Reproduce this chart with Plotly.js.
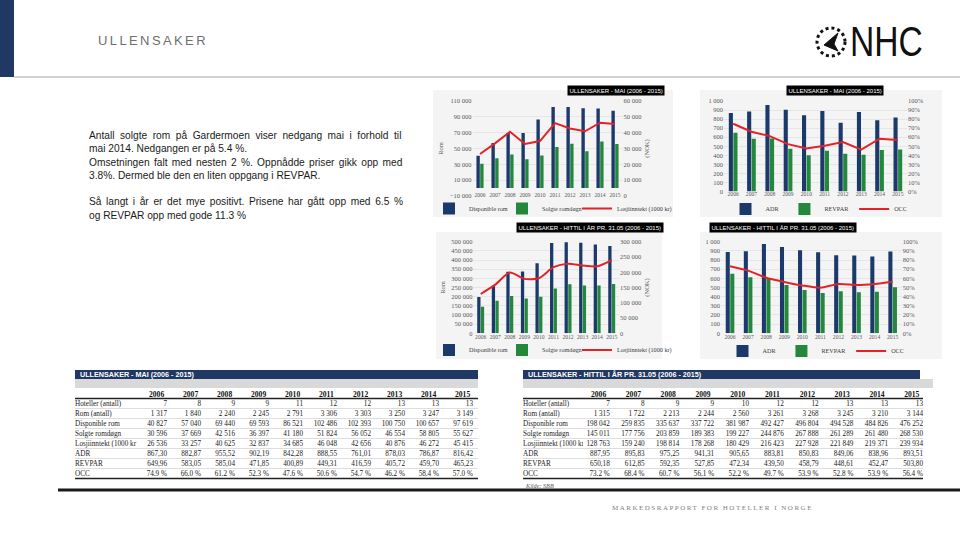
<!DOCTYPE html>
<html>
<head>
<meta charset="utf-8">
<script src="https://cdn.plot.ly/plotly-3.0.1.min.js"></script>
<style>
html,body{margin:0;padding:0;background:#ffffff;}
#chart{width:960px;height:540px;}
</style>
</head>
<body>
<div id="chart"></div>
<script>
// ---------- DATA ----------
const years = ['2006','2007','2008','2009','2010','2011','2012','2013','2014','2015'];

// ULLENSAKER - MAI (2006 - 2015)
const maiHotels  = [7, 8, 9, 9, 11, 12, 12, 13, 13, 13];
const maiRooms   = [1317, 1840, 2240, 2245, 2791, 3306, 3303, 3250, 3247, 3149];
const maiDisp    = [40827, 57040, 69440, 69593, 86521, 102486, 102393, 100750, 100657, 97619];
const maiSolgte  = [30596, 37669, 42516, 36397, 41180, 51824, 56052, 46554, 58805, 55627];
const maiLosj    = [26536, 33257, 40625, 32837, 34685, 46048, 42656, 40876, 46272, 45415];
const maiADR     = [867.30, 882.87, 955.52, 902.19, 842.28, 888.55, 761.01, 878.03, 786.87, 816.42];
const maiREVPAR  = [649.96, 583.05, 585.04, 471.85, 400.89, 449.31, 416.59, 405.72, 459.70, 465.23];
const maiOCC     = [74.9, 66.0, 61.2, 52.3, 47.6, 50.6, 54.7, 46.2, 58.4, 57.0];

// ULLENSAKER - HITTIL I ÅR PR. 31.05 (2006 - 2015)
const ytdHotels  = [7, 8, 9, 9, 10, 12, 12, 13, 13, 13];
const ytdRooms   = [1315, 1722, 2213, 2244, 2560, 3261, 3268, 3245, 3210, 3144];
const ytdDisp    = [198042, 259835, 335637, 337722, 381987, 492427, 496804, 494528, 484826, 476252];
const ytdSolgte  = [145011, 177756, 203859, 189383, 199227, 244876, 267888, 261289, 261480, 268530];
const ytdLosj    = [128763, 159240, 198814, 178268, 180429, 216423, 227928, 221849, 219371, 239934];
const ytdADR     = [887.95, 895.83, 975.25, 941.31, 905.65, 883.81, 850.83, 849.06, 838.96, 893.51];
const ytdREVPAR  = [650.18, 612.85, 592.35, 527.85, 472.34, 439.50, 458.79, 448.61, 452.47, 503.80];
const ytdOCC     = [73.2, 68.4, 60.7, 56.1, 52.2, 49.7, 53.9, 52.8, 53.9, 56.4];

const rowLabels = ['Hoteller (antall)', 'Rom (antall)', 'Disponible rom', 'Solgte romdøgn',
                   'Losjiinntekt (1000 kr', 'ADR', 'REVPAR', 'OCC'];
const seriesNames = ['Disponible rom', 'Solgte romdøgn', 'Losjiinntekt (1000 kr)'];
const kpiNames = ['ADR', 'REVPAR', 'OCC'];

// ---------- HELPERS ----------
const W = 960, H = 540;
const px = x => x / W;
const py = y => 1 - y / H;
const NB = '\u00a0';
const fmtInt = n => String(n).replace(/\B(?=(\d{3})+(?!\d))/g, NB);
const fmtDec = n => n.toFixed(2).replace('.', ',');
const fmtPct = n => n.toFixed(1).replace('.', ',') + NB + '%';
const nb = s => s.replace(/ /g, NB);

const BLUE = '#1b3a6b', GREEN = '#23873c', RED = '#e3222a';
const SERIF = 'Liberation Serif, Times New Roman, serif';
const SANS = 'Liberation Sans, Arial, sans-serif';
const TICK = {family: SERIF, size: 6.5, color: '#595959'};
const YEARF = {family: SERIF, size: 5.6, color: '#595959'};
const LEGF = {family: SERIF, size: 6.2, color: '#404040'};
const GRID = '#e6e6e6';

function barTrace(x, y, name, color, xa, ya, leg, lw) {
  const t = {type: 'bar', x: x, y: y, name: name, marker: {color: color},
          xaxis: xa, yaxis: ya, legend: leg, hoverinfo: 'skip'};
  if (lw) t.legendwidth = lw;
  return t;
}
function lineTrace(x, y, name, xa, ya, leg, shape) {
  return {type: 'scatter', mode: 'lines', x: x, y: y, name: name,
          line: {color: RED, width: 2, shape: shape, smoothing: 0.7},
          xaxis: xa, yaxis: ya, legend: leg, hoverinfo: 'skip'};
}

const occMai = maiOCC.map(v => v / 100);
const occYtd = ytdOCC.map(v => v / 100);

const traces = [
  barTrace(years, maiDisp, seriesNames[0], BLUE, 'x', 'y', 'legend', 28),
  barTrace(years, maiSolgte, seriesNames[1], GREEN, 'x', 'y', 'legend', 30),
  lineTrace(years, maiLosj, seriesNames[2], 'x', 'y2', 'legend', 'linear'),

  barTrace(years, maiADR, kpiNames[0], BLUE, 'x2', 'y3', 'legend2'),
  barTrace(years, maiREVPAR, kpiNames[1], GREEN, 'x2', 'y3', 'legend2'),
  lineTrace(years, occMai, kpiNames[2], 'x2', 'y4', 'legend2', 'linear'),

  barTrace(years, ytdDisp, seriesNames[0], BLUE, 'x3', 'y5', 'legend3', 28),
  barTrace(years, ytdSolgte, seriesNames[1], GREEN, 'x3', 'y5', 'legend3', 30),
  lineTrace(years, ytdLosj, seriesNames[2], 'x3', 'y6', 'legend3', 'spline'),

  barTrace(years, ytdADR, kpiNames[0], BLUE, 'x4', 'y7', 'legend4'),
  barTrace(years, ytdREVPAR, kpiNames[1], GREEN, 'x4', 'y7', 'legend4'),
  lineTrace(years, occYtd, kpiNames[2], 'x4', 'y8', 'legend4', 'spline')
];

// ---------- TABLES ----------
function tableColumns(rows) {
  const cols = [rowLabels.map(nb)];
  for (let i = 0; i < years.length; i++) {
    cols.push([fmtInt(rows.hotels[i]), fmtInt(rows.rooms[i]), fmtInt(rows.disp[i]),
               fmtInt(rows.solgte[i]), fmtInt(rows.losj[i]), fmtDec(rows.adr[i]),
               fmtDec(rows.revpar[i]), fmtPct(rows.occ[i])]);
  }
  return cols;
}
const alignCells = ['left'].concat(years.map(() => 'right'));
const alignHead = ['left'].concat(years.map(() => 'left'));
function tableTrace(rows, x0, x1, y0, y1, labelW, colW) {
  return {
    type: 'table',
    domain: {x: [px(x0), px(x1)], y: [py(y1), py(y0)]},
    columnwidth: [labelW].concat(years.map(() => colW)),
    header: {values: [''].concat(years), height: 10, align: alignHead,
             fill: {color: 'rgba(0,0,0,0)'}, line: {width: 0, color: 'rgba(0,0,0,0)'},
             font: {family: SERIF, size: 7.6, color: '#111', weight: 'bold'}},
    cells: {values: tableColumns(rows), height: 10, align: alignCells,
            fill: {color: 'rgba(0,0,0,0)'}, line: {width: 0, color: 'rgba(0,0,0,0)'},
            font: {family: SERIF, size: 7.2, color: '#1a1a1a'}}
  };
}
traces.push(tableTrace({hotels: maiHotels, rooms: maiRooms, disp: maiDisp, solgte: maiSolgte,
  losj: maiLosj, adr: maiADR, revpar: maiREVPAR, occ: maiOCC}, 67, 481, 383, 476, 74, 34));
traces.push(tableTrace({hotels: ytdHotels, rooms: ytdRooms, disp: ytdDisp, solgte: ytdSolgte,
  losj: ytdLosj, adr: ytdADR, revpar: ytdREVPAR, occ: ytdOCC}, 515, 931, 383, 476, 68, 34.8));

// ---------- AXES ----------
function xAx(x0, x1, anchor, standoff) {
  return {domain: [px(x0), px(x1)], anchor: anchor, type: 'category', tickfont: YEARF,
          ticks: '', showgrid: false, zeroline: false, showline: false,
          ticklabelstandoff: standoff, fixedrange: true, automargin: false};
}
function yAx(ybot, ytop, anchor, range, dtick, fmt, title) {
  const a = {domain: [py(ybot), py(ytop)], anchor: anchor, range: range, tick0: range[0], dtick: dtick,
          tickformat: fmt, tickfont: TICK, ticks: '', gridcolor: GRID, gridwidth: 1,
          zeroline: false, showline: false, fixedrange: true, automargin: false};
  if (title) a.title = {text: title, font: {family: SERIF, size: 6.5, color: '#595959'}, standoff: 5};
  return a;
}
function y2Ax(over, anchor, range, dtick, fmt, title) {
  const a = {overlaying: over, side: 'right', anchor: anchor, range: range, tick0: range[0], dtick: dtick,
          tickformat: fmt, tickfont: TICK, ticks: '', showgrid: false, zeroline: false,
          showline: false, fixedrange: true, automargin: false};
  if (title) a.title = {text: title, font: {family: SERIF, size: 6.5, color: '#595959'}, standoff: 4};
  return a;
}
function legend(xc, yc) {
  return {x: px(xc), y: py(yc), xanchor: 'center', yanchor: 'middle', orientation: 'h',
          font: LEGF, bgcolor: 'rgba(0,0,0,0)', traceorder: 'normal', itemclick: false};
}

// ---------- DECORATION ----------
const shapes = [];
function rect(x0, y0, x1, y1, fill, layer) {
  shapes.push({type: 'rect', xref: 'paper', yref: 'paper', x0: px(x0), x1: px(x1),
               y0: py(y1), y1: py(y0), fillcolor: fill, line: {width: 0}, layer: layer || 'below'});
}
function hline(x0, x1, y, color, width) {
  shapes.push({type: 'line', xref: 'paper', yref: 'paper', x0: px(x0), x1: px(x1),
               y0: py(y), y1: py(y), line: {color: color, width: width}});
}
// header band
rect(0, 0, 14, 77, '#1f3864', 'above');
hline(14, 960, 77, '#a6a6a6', 1.2);
// chart panels
rect(433, 90, 673, 217, '#f4f4f4');
rect(700, 90, 942, 217, '#f4f4f4');
rect(436, 232, 662, 359, '#f4f4f4');
rect(700, 232, 942, 359, '#f4f4f4');
// table title bands
rect(75, 370, 478, 379, '#1f3864', 'above');
rect(75, 379, 478, 388, '#d9d9d9', 'below');
rect(523, 370, 920, 379, '#1f3864', 'above');
rect(523, 379, 933, 388, '#d9d9d9', 'below');
// table rules
[[75, 478], [523, 923]].forEach(([a, b]) => {
  hline(a, b, 398.5, '#222', 1.4);
  for (let k = 1; k < 8; k++) hline(a, b, 398.5 + k * 10, '#c8c8c8', 0.6);
  hline(a, b, 478.5, '#222', 1.4);
});
// bottom rule
hline(58, 960, 490, '#1a1a1a', 3);
// compass logo
shapes.push({type: 'circle', xref: 'paper', yref: 'paper', x0: px(817), x1: px(845),
             y0: py(56), y1: py(28), line: {color: '#111', width: 3, dash: 'dot'}});
shapes.push({type: 'path', xref: 'paper', yref: 'paper',
             path: 'M' + px(838) + ',' + py(33) + ' L' + px(824) + ',' + py(45) + ' L' + px(838) + ',' + py(51) +
                   ' L' + px(834) + ',' + py(44) + ' Z',
             fillcolor: '#111', line: {color: '#111', width: 1}});

const annotations = [];
function ann(text, x, y, opts) {
  annotations.push(Object.assign({text: text, x: px(x), y: py(y), xref: 'paper', yref: 'paper',
                                  showarrow: false}, opts));
}
ann('ULLENSAKER', 96, 40, {xanchor: 'left', yanchor: 'middle', align: 'left',
    font: {family: SANS, size: 13, color: '#6e6e6e'}});
ann('NHC', 886, 41, {xanchor: 'center', yanchor: 'middle',
    font: {family: 'Liberation Sans, Arial, sans-serif', size: 42, color: '#111'}});
ann('Antall solgte rom på Gardermoen viser nedgang mai i forhold til<br>mai 2014. Nedgangen er på 5.4 %.<br>' +
    'Omsetningen falt med nesten 2 %. Oppnådde priser gikk opp med<br>3.8%. Dermed ble den en liten oppgang i REVPAR.<br><br>' +
    'Så langt i år er det mye positivt. Prisene har gått opp med 6.5 %<br>og REVPAR opp med gode 11.3 %',
    87, 128, {xanchor: 'left', yanchor: 'top', align: 'left',
    font: {family: SANS, size: 10.2, color: '#1a1a1a'}});
const titleFont = {family: SANS, size: 6, color: '#ffffff'};
ann('ULLENSAKER - MAI (2006 - 2015)', 616, 85, {bgcolor: '#000', font: titleFont, borderpad: 1.5});
ann('ULLENSAKER - MAI (2006 - 2015)', 884, 85, {bgcolor: '#000', font: titleFont, borderpad: 1.5});
ann('ULLENSAKER - HITTIL I ÅR PR. 31.05 (2006 - 2015)', 590, 227.5, {bgcolor: '#000', font: titleFont, borderpad: 1.5});
ann('ULLENSAKER - HITTIL I ÅR PR. 31.05 (2006 - 2015)', 857, 227.5, {bgcolor: '#000', font: titleFont, borderpad: 1.5});
ann('ULLENSAKER - MAI (2006 - 2015)', 78, 374.5, {xanchor: 'left', yanchor: 'middle',
    font: {family: SANS, size: 7.2, color: '#fff', weight: 'bold'}});
ann('ULLENSAKER - HITTIL I ÅR PR. 31.05 (2006 - 2015)', 526, 374.5, {xanchor: 'left', yanchor: 'middle',
    font: {family: SANS, size: 7.2, color: '#fff', weight: 'bold'}});
ann('Kilde: SBB', 523, 485, {xanchor: 'left', yanchor: 'middle',
    font: {family: SERIF, size: 6.2, color: '#595959', style: 'italic'}});
ann('MARKEDSRAPPORT FOR HOTELLER I NORGE', 610, 508, {xanchor: 'left', yanchor: 'middle', align: 'left',
    font: {family: SERIF, size: 7, color: '#7f7f7f'}});

const layout = {
  width: W, height: H,
  margin: {l: 0, r: 0, t: 0, b: 0},
  paper_bgcolor: '#ffffff', plot_bgcolor: 'rgba(0,0,0,0)',
  separators: ', ',
  barmode: 'group', bargap: 0.5, bargroupgap: 0.1,
  showlegend: true,
  xaxis:  xAx(472.5, 622.5, 'y', -6),
  yaxis:  yAx(196, 101, 'x', [-10000, 110000], 20000, ',d', 'Rom'),
  yaxis2: y2Ax('y', 'x', [0, 60000], 10000, ',d', '(NOK)'),
  xaxis2: xAx(724, 907, 'y3', -2),
  yaxis3: yAx(191.5, 101, 'x2', [0, 1000], 100, ',d'),
  yaxis4: y2Ax('y3', 'x2', [0, 1], 0.1, '.0%'),
  xaxis3: xAx(473.4, 619, 'y5', -1),
  yaxis5: yAx(333.3, 241.7, 'x3', [0, 500000], 50000, ',d', 'Rom'),
  yaxis6: y2Ax('y5', 'x3', [0, 300000], 50000, ',d', '(NOK)'),
  xaxis4: xAx(721, 901.7, 'y7', -1),
  yaxis7: yAx(333.3, 241.7, 'x4', [0, 1000], 100, ',d'),
  yaxis8: y2Ax('y7', 'x4', [0, 1], 0.1, '.0%'),
  legend:  legend(553, 208.5),
  legend2: legend(819, 209),
  legend3: legend(553, 350),
  legend4: legend(816, 351),
  shapes: shapes,
  annotations: annotations
};

const justify = {'Antall solgte': '2.7px', 'Omsetningen falt': '1.5px', 'Så langt': '1.8px'};
Plotly.newPlot('chart', traces, layout, {displayModeBar: false, staticPlot: true}).then(function () {
  document.querySelectorAll('.annotation-text').forEach(function (t) {
    const s = t.textContent;
    if (s === 'ULLENSAKER') t.style.letterSpacing = '2.4px';
    if (s.indexOf('MARKEDSRAPPORT') === 0) t.style.letterSpacing = '1.5px';
    if (s === 'NHC') {
      t.style.transformBox = 'fill-box';
      t.style.transformOrigin = 'center';
      t.style.transform = 'scaleX(0.8)';
    }
    if (s.indexOf('Antall solgte') === 0) {
      t.querySelectorAll('tspan').forEach(function (ln) {
        Object.keys(justify).forEach(function (k) {
          if (ln.textContent.indexOf(k) === 0) ln.style.wordSpacing = justify[k];
        });
      });
    }
  });
});
</script>
</body>
</html>
